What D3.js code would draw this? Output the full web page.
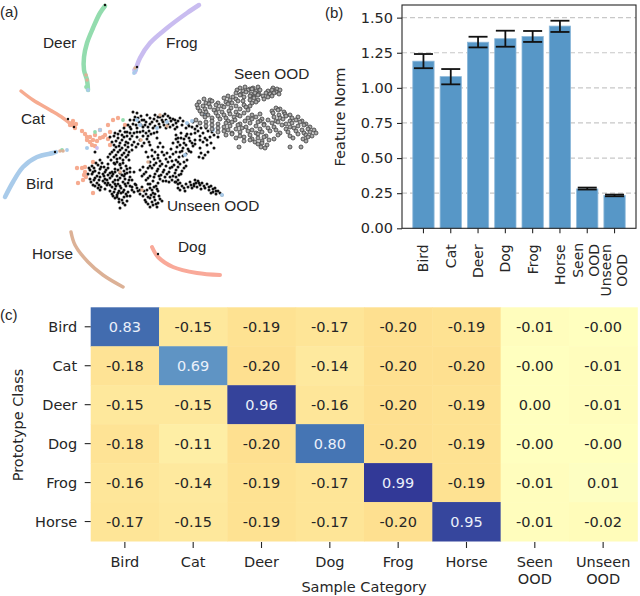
<!DOCTYPE html>
<html>
<head>
<meta charset="utf-8">
<script src="https://cdn.jsdelivr.net/npm/d3@7"></script>
<style>
  html, body { margin: 0; padding: 0; background: #fff; }
  svg { display: block; }
  text { font-family: "DejaVu Sans", sans-serif; fill: #262626; }
  .arial { font-family: "Liberation Sans", Arial, sans-serif; }
</style>
</head>
<body>
<div id="chart"></div>
<script>
// (b) feature norm
const barCategories = ["Bird", "Cat", "Deer", "Dog", "Frog", "Horse", "Seen OOD", "Unseen OOD"]
const barValues = [1.19, 1.08, 1.325, 1.35, 1.365, 1.44, 0.28, 0.233]
const barLow = [1.14, 1.025, 1.288, 1.293, 1.327, 1.398, 0.276, 0.228]
const barHigh = [1.241, 1.134, 1.364, 1.407, 1.405, 1.478, 0.29, 0.24]
const barTicks = [0, 0.25, 0.5, 0.75, 1, 1.25, 1.5]

// (c) prototype similarity
const sampleCategories = ["Bird", "Cat", "Deer", "Dog", "Frog", "Horse", "Seen OOD", "Unseen OOD"]
const prototypeClasses = ["Bird", "Cat", "Deer", "Dog", "Frog", "Horse"]
const similarity = [
  ["0.83", "-0.15", "-0.19", "-0.17", "-0.20", "-0.19", "-0.01", "-0.00"],
  ["-0.18", "0.69", "-0.20", "-0.14", "-0.20", "-0.20", "-0.00", "-0.01"],
  ["-0.15", "-0.15", "0.96", "-0.16", "-0.20", "-0.19", "0.00", "-0.01"],
  ["-0.18", "-0.11", "-0.20", "0.80", "-0.20", "-0.19", "-0.00", "-0.00"],
  ["-0.16", "-0.14", "-0.19", "-0.17", "0.99", "-0.19", "-0.01", "0.01"],
  ["-0.17", "-0.15", "-0.19", "-0.17", "-0.20", "0.95", "-0.01", "-0.02"]
]

// (a) embedding, one trail per class
const deerTrail = [[-55,144],[-60,137],[-67,122],[-73,107],[-76,93],[-76,80],[-73,70],[-72,60]]
const frogTrail = [[39,145],[27,137],[7,122],[-10,107],[-20,92],[-25,78]]
const catTrail = [[-139,59],[-127,50],[-110,40],[-97,32],[-88,25]]
const birdTrail = [[-104,-2],[-107,-3],[-123,-7],[-137,-17],[-147,-32],[-155,-47]]
const horseTrail = [[-89,-82],[-85,-95],[-72,-112],[-57,-125],[-37,-137]]
const dogTrail = [[-8,-97],[-2,-107],[13,-117],[37,-123],[60,-125]]

const catPoints = [[-88,27],[-86,24],[-90,25],[-84,26],[-87,29],[-85,22],[-78,19],[-73,13],[-70,13],[-67,10],[-60,12],[-55,15],[-52,25],[-47,30],[-50,5],[-73,10],[-67,-12],[-83,-18],[-78,-18],[-75,-17],[-75,-22],[-77,-30],[-82,-33],[-67,-43],[-65,4],[-60,20],[-42,32],[-35,25],[-50,18],[-68,5],[-70,8],[-63,9],[-57,13],[-52,11],[-65,15],[-75,16],[-76,-25],[-74,-27]]
const birdPoints = [[-3,22],[7,28],[27,27],[53,20],[25,-5],[-23,30],[-60,20],[-73,2],[-20,25],[45,35],[53,21],[32,29],[62,-45]]
const tanPoints = [[0,35],[7,24],[-19,10],[-18,-40],[-40,-22],[-12,-12],[-73,70],[-74,75],[-25,82],[-97,-1],[-100,-1]]
const greenPoints = [[-65,18],[-37,30],[-98,0],[-74,63]]
const purplePoints = [[-63,2],[-25,78],[-26,80]]
const trailBlue = [[-72,60],[-24,80],[-26,77],[-93,0]]
const blackExtras = [[-55,145],[-23,83],[-2,-104],[-105,-2],[-92,31],[-86,23]]

const unseenOod = [
  [-27,38],[-23,37],[-19,34],[-25,33],[-13,35],[-16,30],[-10,32],[-8,28],[-21,28],[-27,26],[-32,25],[-36,22],[-29,21],[-23,22],[-17,23],[-12,23],[-7,22],[-33,18],[-26,17],[-20,18],[-14,17],[-9,16],[-40,19],[-45,17],[-50,13],
  [-42,12],[-36,13],[-30,11],[-48,8],[-40,7],[-34,8],[-26,8],[-20,10],[-13,11],[-44,3],[-38,2],[-32,3],[-24,3],[-18,4],[-10,5],[-48,-2],[-42,-2],[-36,-3],[-31,-2],[-52,-7],[-46,-7],[-40,-8],[-34,-7],[-43,-12],[-37,-13],[-60,-10],[-65,-2],
  [-68,-16],[-62,-15],[-56,-17],[-70,-20],[-65,-21],[-60,-19],[-54,-20],[-48,-22],[-42,-20],[-36,-21],[-68,-24],[-63,-26],[-57,-24],[-52,-25],[-47,-24],[-43,-26],[-38,-25],[-33,-23],[-70,-29],[-65,-28],[-60,-27],[-55,-29],[-50,-28],[-45,-30],[-40,-28],[-35,-29],[-30,-27],[-69,-32],[-63,-33],[-57,-31],[-52,-33],[-47,-32],[-42,-34],[-37,-32],[-32,-33],[-65,-36],[-59,-37],[-53,-35],[-48,-37],[-44,-36],[-39,-38],[-34,-36],[-60,-40],[-50,-41],[-45,-39],[-41,-41],[-36,-40],[-32,-42],[-48,-44],[-43,-45],[-39,-43],[-34,-44],[-45,-48],[-41,-49],[-36,-47],[-41,-52],[-37,-53],[-33,-51],[-40,-58],
  [-20,-20],[-14,-22],[-10,-26],[-18,-26],[-14,-30],[-28,-37],[-23,-38],[-18,-37],[-13,-40],[-26,-42],[-20,-44],[-14,-44],[-15,-50],[-10,-48],[-5,-50],[-12,-54],[-7,-55],[-2,-53],[0,-49],[-10,-57],[-3,-57],
  [-8,-6],[-2,-8],[4,-5],[10,-7],[16,-10],[23,-6],[27,-10],[-10,-12],[-4,-13],[2,-14],[8,-12],[14,-15],[20,-14],[26,-16],[-8,-18],[-2,-19],[4,-20],[10,-18],[16,-20],[22,-21],[-5,-24],[1,-25],[7,-24],[13,-26],[19,-25],[0,-29],[6,-31],[12,-30],[18,-30],[-10,-34],[-4,-36],[-8,-40],[-2,-41],[-5,-44],[18,-34],[22,-36],[26,-34],[20,-40],[25,-41],
  [30,-32],[34,-34],[38,-31],[42,-33],[32,-38],[37,-37],[41,-39],[35,-30],[47,-34],[51,-36],[55,-38],[49,-40],[53,-42],[58,-41],[62,-45],[45,-38],
  [16,15],[21,12],[26,14],[31,16],[18,8],[24,7],[30,9],[35,10],[23,2],[28,1],[33,4],[20,-2],[26,-4],[31,-2],[-3,12],[0,7],[3,3],[-2,3],[-8,0],
  [43,8],[47,5],[51,7],[54,2],[40,2],[41,-3],[45,-5],[48,-2],[43,-8],[39,-7],
  [-5,35],[0,33],[5,36],[10,32],[15,30],[-3,29],[3,28],[8,26],[13,25],[17,23],[0,23],[6,22],[20,32],[-5,24],[23,29],[28,26],[33,28],[26,22],[32,23],[37,24],[40,27],[46,22],[52,18],[58,13],[35,17],[40,14],[45,12]
]
// second pass over the denser parts of the same cloud
const unseenOodDense = [
  [-66,-18],[-59,-17],[-52,-18],[-45,-19],[-39,-18],[-33,-19],[-67,-22],[-61,-23],[-55,-22],[-50,-23],[-45,-22],[-40,-23],[-35,-24],[-30,-22],[-66,-30],[-61,-30],[-56,-26],[-53,-30],[-48,-26],[-42,-30],[-36,-26],[-31,-30],[-67,-35],[-61,-35],[-55,-33],[-50,-35],[-45,-34],[-40,-36],[-35,-34],[-30,-36],[-62,-38],[-55,-39],[-46,-42],[-42,-43],[-37,-42],[-33,-46],[-38,-50],[-43,-47],[-35,-55],[-47,-46],[-30,-46],[-28,-40],
  [-72,-24],[-71,-18],[-64,-13],[-58,-13],[-52,-14],[-46,-13],[-40,-15],[-34,-16],[-30,-18],[-26,-22],[-28,-30],[-25,-34],
  [-24,-35],[-20,-40],[-16,-41],[-22,-41],[-17,-46],[-12,-47],[-8,-52],[-14,-52],[-4,-54],[-6,-47],[-1,-46],[2,-51],[-9,-45],[-16,-24],[-12,-18],[-17,-17],[-12,-28],
  [-6,-9],[0,-11],[6,-9],[12,-11],[18,-12],[24,-12],[-6,-15],[0,-16],[6,-16],[12,-17],[18,-17],[24,-18],[-3,-21],[3,-22],[9,-22],[15,-23],[21,-24],[-6,-27],[-1,-26],[5,-27],[10,-27],[16,-27],[3,-31],[9,-32],[15,-32],[-2,-33],[-7,-31],[-6,-37],[-3,-39],[-10,-38],[-7,-43],[-12,-34],
  [-2,-5],[-12,-7],[-14,-2],[7,-3],[13,-4],[19,-7],[-5,-2],[2,-2],[-10,-16],
  [16,-32],[20,-33],[24,-38],[18,-38],[28,-37],[31,-35],[36,-33],[40,-35],[44,-36],[34,-36],[39,-33],[49,-37],[53,-39],[56,-41],[60,-43],[51,-43],[56,-44],
  [18,12],[24,11],[29,12],[20,5],[26,5],[32,7],[22,-1],[29,-1],[17,3],[35,6],[27,16],[21,17],[16,11],[13,7],[11,1],[16,-2],
  [-46,14],[-42,16],[-38,15],[-33,14],[-28,14],[-23,13],[-17,14],[-12,14],[-44,9],[-38,10],[-32,7],[-28,5],[-22,6],[-16,7],[-11,8],[-46,5],[-41,4],[-35,5],[-46,0],[-40,0],[-34,0],[-28,0],[-50,-4],[-44,-5],[-38,-5],[-32,-5],[-49,-10],[-43,-9],[-37,-10],[-31,-10],[-45,-14],[-40,-14],
  [-30,30],[-26,30],[-22,32],[-18,30],[-14,28],[-10,26],[-6,31],[-24,25],[-19,25],[-15,25],[-30,23],[-35,18],[-30,17],[-23,18],[-17,19],[-11,19],[-6,17],[-3,18],
  [2,30],[6,30],[11,29],[16,27],[-2,33],[3,34],[8,34],[13,31],[18,29],[4,25],[10,23],[15,21],[-1,26],[22,25],[29,24],[35,21],[41,22],[48,19],[43,17],[38,19],[54,15],[50,13],[40,10],[47,10]
]

const seenOod = [
  [80,62],[85,63],[90,61],[93,62],[98,63],[113,62],[117,61],
  [77,60],[83,59],[88,60],[92,61],[96,59],[100,60],[108,59],[112,60],[116,58],[120,60],
  [76,57],[81,56],[86,58],[91,56],[95,57],[99,56],[106,57],[110,56],[114,57],[119,56],
  [68,54],[73,53],[80,55],[84,53],[90,54],[94,53],[98,55],[103,54],[108,53],[112,54],
  [44,51],[50,50],[64,52],[70,50],[76,51],[83,49],[90,50],[94,52],[98,50],[104,51],
  [39,48],[46,47],[52,49],[58,47],[66,48],[72,47],[78,49],[92,47],[96,48],
  [37,45],[43,44],[49,46],[56,45],[62,44],[68,46],[76,44],[84,45],[90,44],
  [38,42],[45,41],[50,43],[58,41],[64,43],[71,42],[80,41],[86,43],[116,42],[120,41],
  [40,39],[46,38],[54,40],[62,38],[69,39],[76,38],[88,40],[112,39],[118,40],[124,38],
  [42,36],[48,35],[56,37],[64,35],[70,36],[78,35],[84,37],[92,35],[100,36],[113,37],[119,35],[125,36],[130,35],
  [45,33],[52,32],[58,34],[66,32],[74,33],[80,34],[88,32],[96,33],[102,31],[114,33],[120,32],[126,34],[132,32],[138,33],
  [36,30],[52,29],[60,31],[68,29],[75,30],[85,29],[92,31],[100,29],[108,30],[116,29],[123,31],[130,29],[136,30],[142,29],
  [40,27],[46,28],[58,26],[66,27],[72,28],[80,26],[90,27],[98,28],[104,26],[112,27],[118,28],[126,26],[132,27],[140,28],[146,26],
  [46,24],[52,25],[64,23],[70,24],[78,25],[86,23],[96,24],[104,25],[114,23],[122,25],[130,23],[138,24],[144,25],[150,23],
  [52,21],[58,22],[68,20],[76,21],[82,22],[92,20],[100,21],[108,22],[116,20],[126,21],[134,22],[142,20],[148,21],[154,20],
  [58,18],[64,19],[72,17],[80,18],[88,19],[96,17],[102,18],[110,19],[120,17],[128,18],[136,19],[144,17],[150,18],[156,17],
  [66,15],[72,16],[80,14],[90,15],[98,16],[106,14],[118,15],[130,14],[138,16],[146,15],[152,14],
  [76,12],[84,13],[92,11],[98,12],[104,13],[114,11],[133,12],[143,11],[148,13],
  [84,9],[90,10],[95,8],[102,9],[109,10],[146,9],
  [98,6],[102,7],[107,5],[79,3],[101,3],[105,2],[130,3],[141,3]
]

const width = 640, height = 596

const svg = d3.select("#chart").append("svg")
  .attr("width", width)
  .attr("height", height)

// panel letters
const panelLetters = [["(a)", 0, 17], ["(b)", 325, 18], ["(c)", 0, 320]]
svg.selectAll(".panel-letter")
  .data(panelLetters)
  .join("text")
    .attr("class", "panel-letter arial")
    .attr("x", d => d[1])
    .attr("y", d => d[2])
    .attr("font-size", 15)
    .text(d => d[0])

//////////
// (a) EMBEDDING //
//////////
const ex = d3.scaleLinear().domain([-160, 160]).range([0, 320])
const ey = d3.scaleLinear().domain([-150, 150]).range([300, 0])

const g_a = svg.append("g")

const trails = [
  {data: deerTrail, color: "#93dcae", w: 4.5},
  {data: frogTrail, color: "#c9bcf0", w: 4.5},
  {data: catTrail, color: "#f6ab90", w: 3.5},
  {data: birdTrail, color: "#a9cbea", w: 4.5},
  {data: horseTrail, color: "#dcb196", w: 3.5},
  {data: dogTrail, color: "#f9a999", w: 4}
]
const trailLine = d3.line().x(d => ex(d[0])).y(d => ey(d[1])).curve(d3.curveCatmullRom)
g_a.selectAll(".trail")
  .data(trails)
  .join("path")
    .attr("class", "trail")
    .attr("d", d => trailLine(d.data))
    .attr("fill", "none")
    .attr("stroke", d => d.color)
    .attr("stroke-width", d => d.w)
    .attr("stroke-linecap", "round")

function dots(data, r, fill, stroke, sw){
  g_a.append("g").selectAll("circle")
    .data(data)
    .join("circle")
      .attr("cx", d => ex(d[0]))
      .attr("cy", d => ey(d[1]))
      .attr("r", r)
      .attr("fill", fill)
      .attr("stroke", stroke || "none")
      .attr("stroke-width", sw || 0)
}

dots(catPoints, 2.2, "#f6ab90")
dots(greenPoints, 1.9, "#93dcae")
dots(purplePoints, 1.9, "#c9bcf0")
dots(trailBlue, 1.9, "#a9cbea")
dots(unseenOod, 1.5, "#111")
dots(unseenOodDense, 1.5, "#111")
dots(birdPoints, 2, "#a9cbea")
dots(tanPoints, 1.8, "#dcb196")
dots(blackExtras, 1.2, "#111")
dots(seenOod, 2, "#a8a8a8", "#3a3a3a", 0.8)

const clusterLabels = ["Deer", "Frog", "Seen OOD", "Cat", "Bird", "Unseen OOD", "Horse", "Dog"]
const labelSpots = [[43,48],[166,48],[234,79],[21,124],[26,189],[167,211],[32,259],[178,252]]
svg.selectAll(".cluster-label")
  .data(clusterLabels)
  .join("text")
    .attr("class", "cluster-label arial")
    .attr("x", (d, i) => labelSpots[i][0])
    .attr("y", (d, i) => labelSpots[i][1])
    .attr("font-size", 15.4)
    .text(d => d)

//////////
// (b) BARS //
//////////
const bx = d3.scaleBand().domain(barCategories).range([402, 636]).paddingInner(0.22).paddingOuter(0.396)
const by = d3.scaleLinear().domain([0, 1.59]).range([228.3, 5])

const g_b = svg.append("g")

g_b.append("g").selectAll("line")
  .data(barTicks.slice(1))
  .join("line")
    .attr("x1", 402).attr("x2", 636)
    .attr("y1", d => by(d)).attr("y2", d => by(d))
    .attr("stroke", "#c8c8c8")
    .attr("stroke-width", 1.2)
    .attr("stroke-dasharray", "5 3")

g_b.append("g").selectAll("rect")
  .data(barCategories)
  .join("rect")
    .attr("x", d => bx(d))
    .attr("y", (d, i) => by(barValues[i]))
    .attr("width", bx.bandwidth())
    .attr("height", (d, i) => by(0) - by(barValues[i]))
    .attr("fill", "#5797c7")
    .attr("stroke", "#8db8da")
    .attr("stroke-width", 0.8)

// error bars
const cap = 9.5
const g_err = g_b.append("g").attr("stroke", "#111").attr("stroke-width", 1.8)
barCategories.forEach((c, i) => {
  const cx = bx(c) + bx.bandwidth() / 2
  g_err.append("line").attr("x1", cx).attr("x2", cx).attr("y1", by(barLow[i])).attr("y2", by(barHigh[i]))
  g_err.append("line").attr("x1", cx - cap).attr("x2", cx + cap).attr("y1", by(barLow[i])).attr("y2", by(barLow[i]))
  g_err.append("line").attr("x1", cx - cap).attr("x2", cx + cap).attr("y1", by(barHigh[i])).attr("y2", by(barHigh[i]))
})

g_b.append("rect")
  .attr("x", 402).attr("y", 5).attr("width", 234).attr("height", 223.3)
  .attr("fill", "none").attr("stroke", "#262626").attr("stroke-width", 1.1)

const yAxisB = g_b.append("g")
  .attr("transform", "translate(402,0)")
  .call(d3.axisLeft(by).tickValues(barTicks).tickFormat(d3.format(".2f")).tickSize(5).tickPadding(4))
yAxisB.select(".domain").remove()
yAxisB.selectAll("text").attr("font-size", 14.5).attr("font-family", null).style("fill", "#262626")
yAxisB.selectAll("line").attr("stroke", "#262626").attr("stroke-width", 1.1)

const xTicksB = g_b.append("g").selectAll("g")
  .data(barCategories)
  .join("g")
    .attr("transform", d => `translate(${bx(d) + bx.bandwidth() / 2},228.3)`)
xTicksB.append("line").attr("y2", 5).attr("stroke", "#262626").attr("stroke-width", 1.1)
xTicksB.each(function(d){
  const parts = d.split(" ")
  const g = d3.select(this)
  if(parts.length == 1){
    g.append("text")
      .attr("transform", "translate(5,16) rotate(-90)")
      .attr("text-anchor", "end")
      .attr("font-size", 14)
      .text(d)
  }
  else{
    parts.forEach((p, i) => {
      g.append("text")
        .attr("transform", `translate(${i == 0 ? -4 : 12},${d == "Seen OOD" ? 32 : 42}) rotate(-90)`)
        .attr("text-anchor", "middle")
        .attr("font-size", 14)
        .text(p)
    })
  }
})

svg.append("text")
  .attr("transform", "translate(345,117) rotate(-90)")
  .attr("text-anchor", "middle")
  .attr("font-size", 14.5)
  .text("Feature Norm")

//////////
// (c) HEATMAP //
//////////
const hx = d3.scaleBand().domain(sampleCategories).range([90.7, 637.3])
const hy = d3.scaleBand().domain(prototypeClasses).range([307.3, 541])
// straight ramp through the 11 brewer stops, same as the matplotlib map
const rdYlBu = d3.piecewise(d3.interpolateRgb, d3.schemeRdYlBu[11])
const heatColor = v => rdYlBu((1 + v) / 2)

const g_c = svg.append("g")

const cells = []
prototypeClasses.forEach((p, r) => {
  sampleCategories.forEach((s, c) => {
    cells.push({p: p, s: s, label: similarity[r][c], value: +similarity[r][c]})
  })
})

g_c.selectAll("rect")
  .data(cells)
  .join("rect")
    .attr("x", d => hx(d.s))
    .attr("y", d => hy(d.p))
    .attr("width", hx.bandwidth() + 0.5)
    .attr("height", hy.bandwidth() + 0.5)
    .attr("fill", d => heatColor(d.value))

g_c.selectAll(".cell-label")
  .data(cells)
  .join("text")
    .attr("class", "cell-label")
    .attr("x", d => hx(d.s) + hx.bandwidth() / 2)
    .attr("y", d => hy(d.p) + hy.bandwidth() / 2 + 5.2)
    .attr("text-anchor", "middle")
    .attr("font-size", 14.5)
    .style("fill", d => d.value > 0.5 ? "#eaf0fa" : "#262626")
    .text(d => d.label)

const yTicksC = g_c.append("g").selectAll("g")
  .data(prototypeClasses)
  .join("g")
    .attr("transform", d => `translate(90.7,${hy(d) + hy.bandwidth() / 2})`)
yTicksC.append("line").attr("x1", -6).attr("stroke", "#262626").attr("stroke-width", 1.1)
yTicksC.append("text")
  .attr("x", -13.5)
  .attr("y", 5.2)
  .attr("text-anchor", "end")
  .attr("font-size", 14.5)
  .text(d => d)

const xTicksC = g_c.append("g").selectAll("g")
  .data(sampleCategories)
  .join("g")
    .attr("transform", d => `translate(${hx(d) + hx.bandwidth() / 2},541)`)
xTicksC.append("line").attr("y1", 1).attr("y2", 7).attr("stroke", "#262626").attr("stroke-width", 1.1)
xTicksC.each(function(d){
  const g = d3.select(this)
  d.split(" ").forEach((p, i) => {
    g.append("text")
      .attr("y", 26 + i * 16.5)
      .attr("text-anchor", "middle")
      .attr("font-size", 14.5)
      .text(p)
  })
})

svg.append("text")
  .attr("x", 364)
  .attr("y", 592)
  .attr("text-anchor", "middle")
  .attr("font-size", 14.5)
  .text("Sample Category")

svg.append("text")
  .attr("transform", "translate(23,425) rotate(-90)")
  .attr("text-anchor", "middle")
  .attr("font-size", 14.5)
  .text("Prototype Class")
</script>
</body>
</html>
